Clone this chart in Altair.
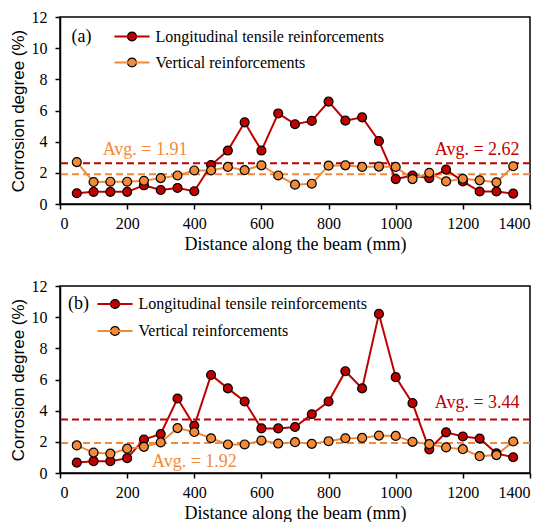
import altair as alt
import pandas as pd

distance = [50, 100, 150, 200, 250, 300, 350, 400, 450, 500, 550, 600, 650, 700,
            750, 800, 850, 900, 950, 1000, 1050, 1100, 1150, 1200, 1250, 1300, 1350]

a_long = [0.69, 0.78, 0.78, 0.78, 1.20, 0.90, 1.03, 0.82, 2.50, 3.43, 5.24, 3.43, 5.81, 5.12,
          5.33, 6.57, 5.35, 5.56, 4.04, 1.60, 1.83, 1.66, 2.21, 1.45, 0.80, 0.80, 0.67]
a_vert = [2.69, 1.41, 1.43, 1.43, 1.49, 1.66, 1.83, 2.15, 2.15, 2.38, 2.17, 2.48, 1.83, 1.24,
          1.30, 2.46, 2.48, 2.38, 2.40, 2.38, 1.60, 2.00, 1.45, 1.62, 1.52, 1.39, 2.42]
b_long = [0.67, 0.76, 0.76, 0.95, 2.15, 2.50, 4.78, 3.03, 6.29, 5.43, 4.59, 2.86, 2.86, 2.95,
          3.77, 4.59, 6.53, 5.43, 10.21, 6.15, 4.48, 1.52, 2.61, 2.34, 2.21, 1.26, 1.01]
b_vert = [1.77, 1.31, 1.24, 1.56, 1.68, 1.96, 2.88, 2.63, 2.23, 1.83, 1.83, 2.08, 1.89, 1.98,
          1.87, 2.04, 2.23, 2.25, 2.40, 2.38, 2.00, 1.85, 1.64, 1.53, 1.08, 1.15, 2.02]

series_names = ["Longitudinal tensile reinforcements", "Vertical reinforcements"]
series_colors = ["#C00000", "#F28A3A"]

a_avgs = [2.62, 1.91]
b_avgs = [3.44, 1.92]
a_avg_labels = ["Avg. = 2.62", "Avg. = 1.91"]
b_avg_labels = ["Avg. = 3.44", "Avg. = 1.92"]
a_label_x = [1369, 127]
a_label_y = [3.49, 3.49]
b_label_x = [1369, 274]
b_label_y = [4.49, 0.69]

x_ticks = [0, 200, 400, 600, 800, 1000, 1200, 1400]
y_ticks = [0, 2, 4, 6, 8, 10, 12]

FONT = "Liberation Serif"
SANS = "Liberation Sans"
W, H = 470, 187

axis_common = dict(grid=False, domainColor="black", domainWidth=1.5, tickColor="black",
                   tickWidth=1.5, tickSize=5, labelFont=FONT, labelFontSize=16, labelColor="black",
                   titleColor="black", titleFontWeight="normal", labelOverlap=False)
x_axis = alt.Axis(values=x_ticks, format="d", title="Distance along the beam (mm)",
                  labelPadding=6, titlePadding=4, titleFont=FONT, titleFontSize=18, **axis_common)
y_axis = alt.Axis(values=y_ticks, format="d", title="Corrosion degree (%)",
                  labelPadding=8, titlePadding=4, titleFont=SANS, titleFontSize=17, **axis_common)
x_scale = alt.Scale(domain=[0, 1400], nice=False)
y_scale = alt.Scale(domain=[0, 12], nice=False)


def panel(long_vals, vert_vals, tag, avgs, avg_labels, lx, ly, legend_x, legend_y, row_pad, tag_x, tag_y):
    df = pd.DataFrame({
        "distance": distance * 2,
        "value": long_vals + vert_vals,
        "series": [series_names[0]] * len(distance) + [series_names[1]] * len(distance),
    })
    df["series2"] = df["series"]

    x = alt.X("distance:Q", scale=x_scale, axis=x_axis)
    y = alt.Y("value:Q", scale=y_scale, axis=y_axis)

    lines = alt.Chart(df).mark_line(strokeWidth=2).encode(
        x=x, y=y,
        color=alt.Color("series:N", scale=alt.Scale(range=series_colors),
                        legend=alt.Legend(title=None, orient="none", legendX=legend_x, legendY=legend_y,
                                          symbolType="M-4,0L4,0", symbolSize=77, symbolStrokeWidth=2,
                                          labelFont=FONT, labelFontSize=16, labelColor="black",
                                          labelLimit=0, labelOffset=15.5, rowPadding=row_pad, padding=0)),
    )
    points = alt.Chart(df).mark_point(filled=True, size=80, stroke="black", strokeWidth=1.2, opacity=1).encode(
        x=x, y=y,
        fill=alt.Fill("series2:N", scale=alt.Scale(range=series_colors),
                      legend=alt.Legend(title=None, orient="none", legendX=legend_x, legendY=legend_y,
                                        symbolType="circle", symbolSize=80, symbolStrokeColor="black",
                                        symbolStrokeWidth=1.2, symbolOpacity=1,
                                        labelFont=FONT, labelFontSize=16, labelOpacity=0, labelLimit=0,
                                        labelOffset=15.5, rowPadding=row_pad, padding=0)),
    )

    avg_df = pd.DataFrame({"avg": avgs, "c": series_colors, "label": avg_labels, "lx": lx, "ly": ly})
    rules = alt.Chart(avg_df).mark_rule(strokeDash=[7, 4], strokeWidth=2).encode(
        y=alt.Y("avg:Q", scale=y_scale, axis=y_axis), color=alt.Color("c:N", scale=None))
    tx = alt.X("lx:Q", scale=x_scale, axis=x_axis)
    ty = alt.Y("ly:Q", scale=y_scale, axis=y_axis)
    txt_r = alt.Chart(avg_df.iloc[[0]]).mark_text(align="right", baseline="middle", font=FONT, fontSize=18).encode(
        x=tx, y=ty, text="label:N", color=alt.Color("c:N", scale=None))
    txt_l = alt.Chart(avg_df.iloc[[1]]).mark_text(align="left", baseline="middle", font=FONT, fontSize=18).encode(
        x=tx, y=ty, text="label:N", color=alt.Color("c:N", scale=None))
    tag_txt = alt.Chart(avg_df.iloc[[0]]).mark_text(align="center", baseline="middle", font=FONT,
                                                     fontSize=18, color="black").encode(
        x=alt.value(tag_x), y=alt.value(tag_y), text=alt.value(tag))

    return alt.layer(rules, lines, points, txt_r, txt_l, tag_txt).resolve_scale(
        color="independent").properties(width=W, height=H)


pa = panel(a_long, a_vert, "(a)", a_avgs, a_avg_labels, a_label_x, a_label_y, 64, 11.5, 10, 21.5, 19.5)
pb = panel(b_long, b_vert, "(b)", b_avgs, b_avg_labels, b_label_x, b_label_y, 47, 10, 11, 18.5, 18)

chart = alt.vconcat(pa, pb, spacing=23).resolve_scale(
    color="independent", fill="independent").resolve_legend(
    color="independent", fill="independent").properties(padding=0).configure(
    font=FONT).configure_view(stroke="black", strokeWidth=1.5)

chart.save("out.html", embed_options={"renderer": "svg", "actions": False})
